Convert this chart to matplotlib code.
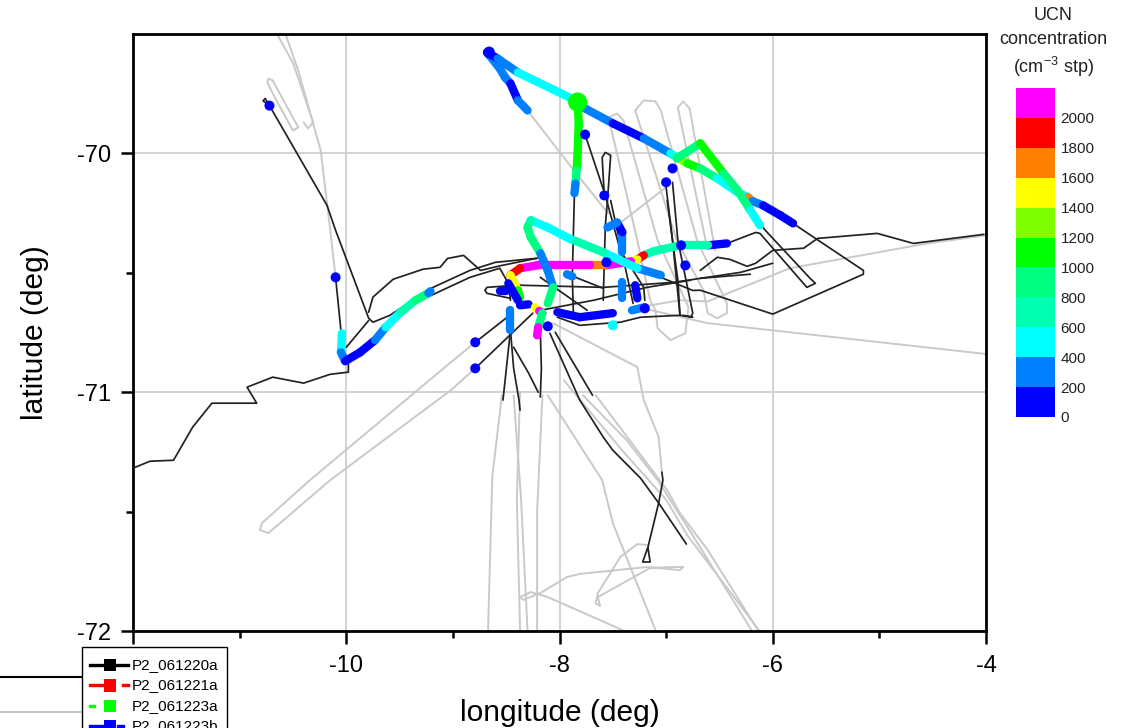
import numpy as np
import matplotlib
matplotlib.use("Agg")
import matplotlib.pyplot as plt
from matplotlib.collections import LineCollection
from matplotlib.colors import ListedColormap, BoundaryNorm
from matplotlib.cm import ScalarMappable
from matplotlib.lines import Line2D
from matplotlib.patches import Rectangle

plt.rcParams['font.family'] = ['Liberation Sans', 'DejaVu Sans']
plt.rcParams['axes.unicode_minus'] = False

# --------------------
# Colour scale
# --------------------
levels = [0, 200, 400, 600, 800, 1000, 1200, 1400, 1600, 1800, 2000, 2200]
level_colors = ['#0000ff', '#0080ff', '#00ffff', '#00ffb0', '#00ff80', '#00ff00',
                '#80ff00', '#ffff00', '#ff8000', '#ff0000', '#ff00ff']

# --------------------
# Grey tracks (lon, lat)
# --------------------
grey_tracks = [
    ([-10.65, -10.50, -10.31, -10.36, -10.40], [-69.5, -69.62, -69.87, -69.895, -69.87]),
    ([-10.57, -10.45, -10.24, -10.15, -10.10], [-69.5, -69.653, -69.987, -70.322, -70.519]),
    ([-10.69, -10.45, -10.50, -10.68, -10.74, -10.73, -10.69],
     [-69.695, -69.891, -69.904, -69.757, -69.703, -69.686, -69.695]),
    ([-8.30, -7.99, -7.59, -7.54], [-69.82, -70.0, -70.226, -70.251]),
    ([-7.00, -7.46], [-70.142, -70.301]),
    # racetracks
    ([-7.54, -7.27, -7.15, -7.10, -7.08, -6.96, -6.82, -6.79, -7.08, -7.40, -7.46, -7.54],
     [-69.849, -70.364, -70.615, -70.657, -70.732, -70.782, -70.753, -70.644, -70.364, -69.862, -69.833, -69.849]),
    ([-7.29, -7.21, -7.10, -7.05, -6.71, -6.43, -6.43, -6.52, -6.61, -6.65, -6.90, -7.29],
     [-69.82, -69.778, -69.782, -69.82, -70.364, -70.628, -70.669, -70.69, -70.669, -70.573, -70.364, -69.82]),
    ([-6.54, -6.78, -6.84, -6.89, -6.63], [-70.406, -69.812, -69.782, -69.808, -70.364]),
    # loops south and west
    ([-8.79, -9.02, -10.34, -10.79, -10.81, -10.73, -10.15, -9.02, -8.79],
     [-70.791, -70.875, -71.368, -71.548, -71.577, -71.59, -71.368, -70.992, -70.9]),
    ([-8.54, -8.63, -8.67], [-71.013, -71.352, -71.996]),
    ([-8.43, -8.36, -8.30], [-71.013, -71.452, -71.996]),
    ([-8.37, -8.40, -8.37], [-71.996, -71.452, -71.0]),
    ([-8.16, -8.21, -8.21], [-71.013, -71.5, -71.996]),
    ([-8.11, -7.60, -7.50, -7.10], [-71.013, -71.368, -71.548, -71.996]),
    ([-7.96, -7.40, -7.00, -6.80, -6.13], [-70.95, -71.25, -71.45, -71.6, -71.996]),
    ([-7.78, -7.37, -7.08, -6.75, -6.20], [-71.013, -71.201, -71.368, -71.6, -71.996]),
    ([-7.66, -6.99, -6.87, -6.61, -6.14], [-71.013, -71.41, -71.506, -71.661, -71.996]),
    ([-8.06, -7.27, -7.21, -7.07, -7.04], [-70.711, -70.895, -71.033, -71.188, -71.335]),
    ([-8.37, -8.27, -8.11, -7.41], [-71.858, -71.837, -71.858, -71.996]),
    ([-8.37, -8.34, -8.18, -7.93, -7.81, -7.18, -6.87, -6.84, -6.93, -7.15, -7.64, -7.62, -7.66, -7.64, -7.43, -7.27, -7.18],
     [-71.858, -71.87, -71.841, -71.774, -71.761, -71.732, -71.745, -71.732, -71.732, -71.736, -71.858, -71.895, -71.883, -71.841, -71.69, -71.636, -71.64]),
    ([-7.20, -6.87, -6.61, -5.84, -5.27, -4.55, -4.0], [-70.64, -70.615, -70.62, -70.481, -70.435, -70.377, -70.343]),
    ([-7.30, -6.61, -4.0], [-70.64, -70.711, -70.84]),
]

# --------------------
# Black tracks (lon, lat)
# --------------------
black_tracks = [
    ([-12.0, -11.84, -11.62, -11.44, -11.26, -10.84, -10.93, -10.69, -10.40, -10.15, -9.98, -9.98],
     [-71.318, -71.289, -71.285, -71.146, -71.046, -71.046, -70.979, -70.937, -70.962, -70.925, -70.916, -70.879]),
    ([-10.72, -10.78, -10.76, -10.72, -10.18, -10.10, -9.79, -9.75, -9.59, -9.23],
     [-69.80, -69.78, -69.77, -69.80, -70.218, -70.322, -70.690, -70.707, -70.678, -70.57]),
    ([-10.10, -10.05], [-70.519, -70.741]),
    ([-9.79, -10.0], [-70.700, -70.812]),
    ([-9.79, -9.75, -9.56, -9.28, -9.12, -9.05, -8.90, -8.74, -8.55, -8.21],
     [-70.665, -70.602, -70.527, -70.485, -70.477, -70.44, -70.427, -70.49, -70.47, -70.439]),
    ([-9.23, -8.84, -8.60, -8.21], [-70.57, -70.49, -70.456, -70.439]),
    ([-9.23, -8.84, -8.56, -8.48, -8.46], [-70.6, -70.519, -70.481, -70.544, -70.615]),
    ([-8.46, -8.68, -8.70, -8.68, -8.53, -8.37], [-70.607, -70.586, -70.573, -70.561, -70.556, -70.552]),
    ([-8.37, -7.59, -6.93, -6.30, -6.0], [-70.552, -70.561, -70.54, -70.498, -70.46]),
    ([-8.18, -7.68, -7.18, -6.77], [-70.657, -70.615, -70.561, -70.531]),
    ([-8.18, -7.74], [-70.519, -70.657]),
    ([-7.90, -7.59], [-70.51, -70.565]),
    ([-7.52, -7.31], [-70.197, -70.628]),
    ([-8.02, -7.81, -7.43, -7.24, -6.87, -6.75, -6.84], [-70.686, -70.72, -70.707, -70.686, -70.678, -70.686, -70.678]),
    ([-6.99, -6.89, -6.87], [-70.197, -70.531, -70.678]),
    ([-6.94, -6.89, -6.75, -6.77], [-70.121, -70.364, -70.669, -70.686]),
    ([-7.00, -6.94, -6.87], [-70.142, -70.364, -70.678]),
    ([-7.86, -7.88, -7.87], [-70.167, -70.515, -70.669]),
    ([-7.76, -7.57, -7.43, -7.21, -7.20], [-69.921, -70.176, -70.406, -70.561, -70.615]),
    ([-7.58, -7.60, -7.57, -7.52, -7.55, -7.57, -7.59], [-70.176, -70.017, -69.996, -70.008, -70.197, -70.301, -70.615]),
    # east side
    ([-7.05, -6.75, -6.68, -6.00, -5.15, -5.15, -5.60, -5.81],
     [-70.519, -70.574, -70.573, -70.673, -70.506, -70.49, -70.356, -70.293]),
    ([-6.40, -6.16, -6.12, -5.68, -5.60, -5.65, -6.07, -6.12],
     [-70.372, -70.331, -70.335, -70.561, -70.544, -70.523, -70.322, -70.293]),
    ([-6.68, -6.52, -6.40, -6.24, -6.16, -6.0, -5.71, -5.58, -5.02, -4.68, -4.02],
     [-70.49, -70.435, -70.444, -70.473, -70.46, -70.406, -70.397, -70.356, -70.335, -70.377, -70.339]),
    ([-6.68, -6.21], [-70.523, -70.506]),
    # fan to the south
    ([-8.46, -8.53], [-70.741, -71.033]),
    ([-8.46, -8.43, -8.38, -8.37], [-70.741, -70.9, -71.033, -71.075]),
    ([-8.43, -8.29, -8.2], [-70.812, -70.92, -71.0]),
    ([-8.18, -8.17, -8.18], [-70.741, -70.9, -71.02]),
    ([-8.09, -7.81, -7.59, -7.50, -7.24, -7.07, -6.81],
     [-70.753, -71.033, -71.188, -71.243, -71.36, -71.464, -71.636]),
    ([-8.04, -7.69], [-70.749, -71.013]),
    ([-7.04, -7.03, -7.07, -7.17, -7.22, -7.15, -7.17], [-71.335, -71.368, -71.464, -71.648, -71.711, -71.711, -71.653]),
    ([-8.79, -8.49], [-70.791, -70.686]),
    ([-8.79, -8.25], [-70.9, -70.669]),
]

# --------------------
# UCN coloured tracks (lon, lat, value)
# --------------------
north_lon = [-8.68, -8.58, -8.39, -7.85, -7.76, -7.50, -7.21, -6.96, -6.90, -6.80, -6.68, -6.52, -6.33, -6.23, -6.19, -6.09, -5.93, -5.81]
north_lat = [-69.577, -69.603, -69.661, -69.778, -69.812, -69.874, -69.937, -70.0, -70.017, -70.042, -70.063, -70.105, -70.163, -70.184, -70.2, -70.218, -70.259, -70.293]
north_val = [100, 300, 500, 500, 300, 100, 300, 500, 1300, 1100, 800, 500, 500, 1700, 300, 100, 100, 100]

down_lon = [-7.83, -7.82, -7.83, -7.84, -7.85, -7.86]
down_lat = [-69.778, -69.874, -70.0, -70.071, -70.126, -70.167]
down_val = [1100, 1100, 1100, 900, 300, 100]

arc_lon = [-6.90, -6.68, -6.46, -6.33, -6.21, -6.12]
arc_lat = [-70.021, -69.958, -70.084, -70.155, -70.238, -70.301]
arc_val = [900, 1100, 900, 800, 500, 100]

start_lon = [-8.68, -8.56, -8.51, -8.46, -8.39, -8.30]
start_lat = [-69.577, -69.644, -69.682, -69.707, -69.778, -69.82]
start_val = [300, 300, 300, 100, 300, 300]

loop_lon = [-7.05, -7.27, -7.59, -7.91, -8.11, -8.27, -8.30, -8.27, -8.18, -8.11, -8.06, -8.11]
loop_lat = [-70.510, -70.481, -70.414, -70.356, -70.310, -70.28, -70.310, -70.351, -70.418, -70.49, -70.561, -70.628]
loop_val = [300, 500, 700, 500, 500, 700, 900, 900, 300, 300, 900, 900]

mag_lon = [-6.43, -6.61, -6.87, -7.12, -7.21, -7.27, -7.33, -7.57, -7.71, -8.21, -8.37, -8.46, -8.39, -8.37]
mag_lat = [-70.377, -70.385, -70.385, -70.41, -70.427, -70.444, -70.452, -70.469, -70.469, -70.469, -70.481, -70.51, -70.573, -70.602]
mag_val = [100, 700, 700, 700, 1900, 1500, 2100, 1700, 2100, 2100, 1900, 1500, 1100, 1100]

west_lon = [-10.04, -10.05, -10.01, -9.87, -9.73, -9.63, -9.49, -9.35, -9.23, -9.21]
west_lat = [-70.753, -70.833, -70.870, -70.833, -70.782, -70.728, -70.665, -70.615, -70.585, -70.577]
west_val = [500, 300, 100, 100, 300, 500, 700, 900, 300, 300]

strip_lon = [-8.02, -7.81, -7.50]
strip_lat = [-70.665, -70.686, -70.669]
strip_val = [100, 100, 100]

gulf_lon = [-8.48, -8.39]
gulf_lat = [-70.544, -70.615]
gulf_val = [100, 100]

gulf2_lon = [-8.46, -8.46]
gulf2_lat = [-70.657, -70.741]
gulf2_val = [300, 300]

mid_lon = [-7.41, -7.41, -7.46, -7.55]
mid_lat = [-70.414, -70.33, -70.29, -70.31]
mid_val = [300, 100, 300, 300]

mid2_lon = [-7.41, -7.41]
mid2_lat = [-70.54, -70.607]
mid2_val = [300, 300]

short_lon = [[-7.32, -7.20], [-7.93, -7.88], [-7.29, -7.27], [-8.29, -8.37],
             [-8.23, -8.19, -8.16, -8.20, -8.21], [-8.56, -8.50]]
short_lat = [[-70.657, -70.644], [-70.506, -70.515], [-70.552, -70.607], [-70.632, -70.636],
             [-70.644, -70.66, -70.669, -70.728, -70.762], [-70.577, -70.577]]
short_val = [[300, 100], [300, 100], [100, 100], [100, 300], [1500, 2100, 800, 2100, 2100], [100, 100]]

# Single dots, where the UCN was only logged briefly
dot_lon = [-10.72, -10.10, -8.79, -8.79, -7.76, -7.58, -6.94, -7.00, -7.56, -6.86, -6.82, -8.11, -7.50, -7.20]
dot_lat = [-69.8, -70.519, -70.791, -70.9, -69.921, -70.176, -70.063, -70.121, -70.456, -70.385, -70.469, -70.724, -70.72, -70.649]
dot_val = [100, 100, 100, 100, 100, 100, 100, 100, 100, 100, 100, 100, 500, 100]

# Where the track sits still near -7.83, -69.78
blob_lon = [-7.83, -8.66]
blob_lat = [-69.785, -69.577]
blob_val = [1100, 100]
blob_size = [190, 70]

colored_tracks = [
    (start_lon, start_lat, start_val), (north_lon, north_lat, north_val),
    (arc_lon, arc_lat, arc_val), (down_lon, down_lat, down_val),
    (mag_lon, mag_lat, mag_val), (loop_lon, loop_lat, loop_val),
    (west_lon, west_lat, west_val), (strip_lon, strip_lat, strip_val),
    (gulf_lon, gulf_lat, gulf_val), (gulf2_lon, gulf2_lat, gulf2_val),
    (mid_lon, mid_lat, mid_val), (mid2_lon, mid2_lat, mid2_val),
] + list(zip(short_lon, short_lat, short_val))

legend_names = ['P2_061220a', 'P2_061221a', 'P2_061223a', 'P2_061223b']
legend_colors = ['#000000', '#ff0000', '#00ff00', '#0000ff']

# --------------------
# Figure
# --------------------
W, H = 1122, 728
fig = plt.figure(figsize=(W / 100, H / 100), dpi=100)
ax = fig.add_axes([133 / W, 1 - 631 / H, (986 - 133) / W, (631 - 34) / H])

cmap = ListedColormap(level_colors)
norm = BoundaryNorm(levels, cmap.N)

ax.set_xlim(-12, -4)
ax.set_ylim(-72, -69.5)
ax.grid(True, which='major', color='#cfcfcf', lw=1.3)
ax.set_axisbelow(True)

for lon, lat in grey_tracks:
    ax.plot(lon, lat, color='#c9c9c9', lw=1.4, zorder=2, solid_capstyle='round')
for lon, lat in black_tracks:
    ax.plot(lon, lat, color='#222222', lw=1.25, zorder=3, solid_capstyle='round')

for lon, lat, val in colored_tracks:
    pts = np.column_stack([lon, lat])
    segs = np.stack([pts[:-1], pts[1:]], axis=1)
    lc = LineCollection(segs, array=np.array(val[:-1], dtype=float), cmap=cmap, norm=norm,
                        linewidths=6, capstyle='round', zorder=4)
    ax.add_collection(lc)
ax.scatter(dot_lon, dot_lat, c=dot_val, cmap=cmap, norm=norm, s=52, linewidths=0, zorder=5)
ax.scatter(blob_lon, blob_lat, c=blob_val, cmap=cmap, norm=norm, s=blob_size, linewidths=0, zorder=5)

ax.set_xticks([-12, -10, -8, -6, -4])
ax.set_xticklabels(['', '-10', '-8', '-6', '-4'])
ax.set_xticks([-11, -9, -7, -5], minor=True)
ax.set_yticks([-72, -71, -70])
ax.set_yticks([-71.5, -70.5], minor=True)
ax.tick_params(which='major', length=9, width=1.8, labelsize=17, direction='out', pad=7)
ax.tick_params(which='minor', length=5, width=1.8, direction='out')
ax.tick_params(axis='x', which='major', pad=8)
for s in ax.spines.values():
    s.set_linewidth(2)
ax.set_xlabel('longitude (deg)', fontsize=21.5)
ax.set_ylabel('latitude (deg)', fontsize=21.5)
ax.xaxis.set_label_coords(0.5, -0.1146)
ax.yaxis.set_label_coords(-0.0987, 0.5)

# Colour bar
cax = fig.add_axes([1016 / W, 1 - 417 / H, (1055 - 1016) / W, (417 - 88) / H])
sm = ScalarMappable(norm=norm, cmap=cmap)
cb = fig.colorbar(sm, cax=cax, ticks=levels[:-1], spacing='uniform')
cb.outline.set_visible(False)
cb.ax.minorticks_off()
cb.ax.tick_params(length=0, labelsize=11, pad=4, colors='#222222')
fig.text(1053 / W, 1 - 15 / H, 'UCN', ha='center', va='center', fontsize=13, color='#222222')
fig.text(1053 / W, 1 - 40 / H, 'concentration', ha='center', va='center', fontsize=13, color='#222222')
fig.text(1053 / W, 1 - 67 / H, r'(cm$^{\mathregular{-3}}$ stp)', ha='center', va='center', fontsize=13, color='#222222')

# Pasted legend, runs off the bottom of the page
fig.add_artist(Line2D([0, 82 / W], [1 - 677 / H] * 2, color='black', lw=1.5))
fig.add_artist(Line2D([0, 82 / W], [1 - 712 / H] * 2, color='#bbbbbb', lw=1.2))
fig.add_artist(Rectangle((82 / W, 1 - 740 / H), (227 - 82) / W, (740 - 647) / H, transform=fig.transFigure,
                         facecolor='white', edgecolor='black', lw=1, zorder=10))
styles = [
    [90, 128],
    [90, 104, 123, 128],
    [90, 94],
    [90, 104, 118, 123],
]
for i, name in enumerate(legend_names):
    y = 1 - (665 + 20.4 * i) / H
    c = legend_colors[i]
    xs = styles[i]
    for j in range(0, len(xs), 2):
        fig.add_artist(Line2D([xs[j] / W, xs[j + 1] / W], [y, y], color=c, lw=2.4, zorder=11))
    fig.add_artist(Rectangle((104 / W, y - 6.2 / H), 11.5 / W, 12.4 / H, transform=fig.transFigure,
                             facecolor=c, edgecolor='none', zorder=11))
    fig.text(132 / W, y, name, ha='left', va='center', fontsize=11, color='black', zorder=12)

fig.savefig('out.png', dpi=100)
